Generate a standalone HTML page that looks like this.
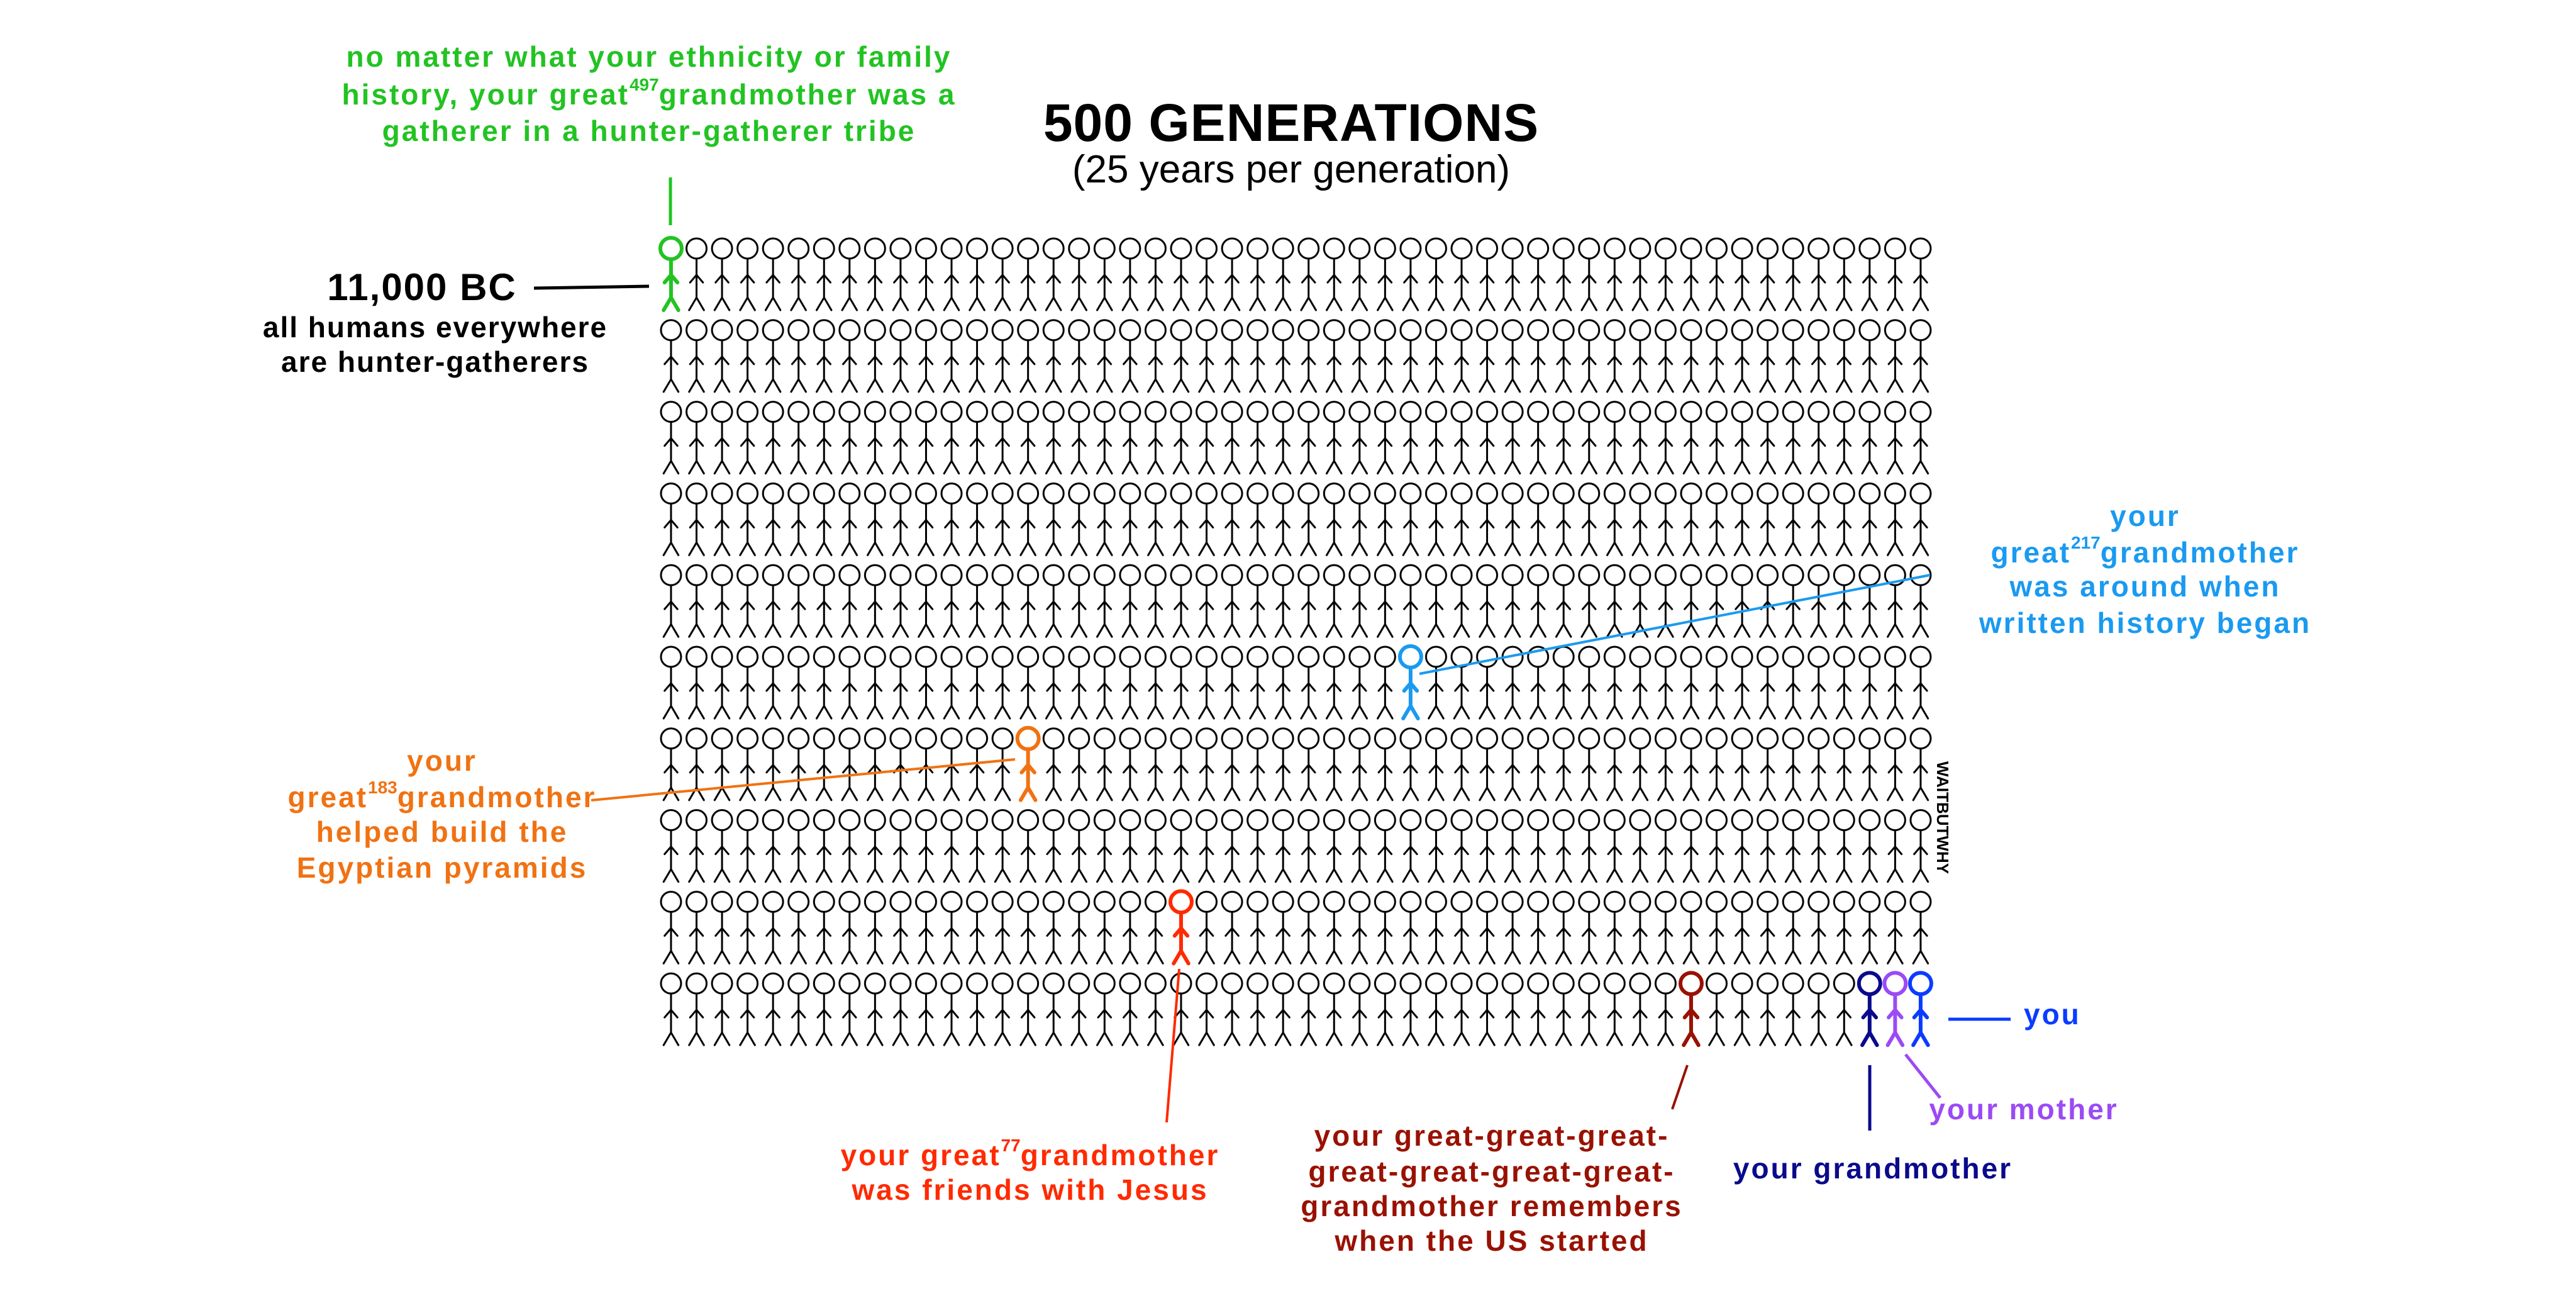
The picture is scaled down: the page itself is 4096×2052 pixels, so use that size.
<!DOCTYPE html>
<html><head><meta charset="utf-8"><style>
html,body{margin:0;padding:0;background:#fff;}
svg{display:block;}
text{font-family:"Liberation Sans",sans-serif;font-weight:bold;}
</style></head><body>
<svg width="4096" height="2052" viewBox="0 0 4096 2052" xmlns="http://www.w3.org/2000/svg">
<defs>
<pattern id="p" x="1046.7" y="373" width="40.55" height="129.8" patternUnits="userSpaceOnUse">
<g fill="none" stroke="#000" stroke-width="3" stroke-linecap="round" stroke-linejoin="round">
<circle cx="20.27" cy="22" r="16"/>
<path d="M20.27 38 L20.27 100 M10 76 L20.27 64 L30.5 76 M8.5 120 L20.27 100 L32 120"/>
</g>
</pattern>
<g id="f" fill="none" stroke-width="6" stroke-linecap="round" stroke-linejoin="round">
<rect x="0" y="0" width="40.55" height="125" fill="#fff" stroke="none"/>
<circle cx="20.27" cy="22" r="17"/>
<path d="M20.27 39 L20.27 100 M10 76 L20.27 64 L30.5 76 M8.5 120 L20.27 100 L32 120"/>
</g>
</defs>
<rect x="1046.7" y="373" width="2027.5" height="1298" fill="url(#p)"/>

<use href="#f" x="1046.7" y="373" stroke="#22c322"/>
<use href="#f" x="2222.65" y="1022" stroke="#1a9af0"/>
<use href="#f" x="1614.4" y="1151.8" stroke="#f07212"/>
<use href="#f" x="1857.7" y="1411.4" stroke="#ff2a00"/>
<use href="#f" x="2668.7" y="1541.2" stroke="#991100"/>
<use href="#f" x="2952.55" y="1541.2" stroke="#0a0a8c"/>
<use href="#f" x="2993.1" y="1541.2" stroke="#9b4af5"/>
<use href="#f" x="3033.65" y="1541.2" stroke="#0a3cff"/>

<text x="2053" y="224" font-size="84" text-anchor="middle" fill="#000" letter-spacing="1">500 GENERATIONS</text>
<text x="2053" y="290" font-size="62" text-anchor="middle" fill="#000" style="font-weight:normal">(25 years per generation)</text>

<g fill="#22c322" font-size="46" text-anchor="middle" letter-spacing="3">
<text x="1032" y="106">no matter what your ethnicity or family</text>
<text x="1032" y="166">history, your great<tspan font-size="28" dy="-22" letter-spacing="0">497</tspan><tspan dy="22">grandmother was a</tspan></text>
<text x="1032" y="224">gatherer in a hunter-gatherer tribe</text>
</g>
<line x1="1066" y1="282" x2="1066" y2="358" stroke="#22c322" stroke-width="5"/>

<text x="671" y="477" font-size="60" text-anchor="middle" fill="#000" letter-spacing="2">11,000 BC</text>
<line x1="849" y1="458" x2="1032" y2="455" stroke="#000" stroke-width="5"/>
<g fill="#000" font-size="46" text-anchor="middle" letter-spacing="2">
<text x="692" y="536">all humans everywhere</text>
<text x="692" y="591">are hunter-gatherers</text>
</g>

<g fill="#1a9af0" font-size="46" text-anchor="middle" letter-spacing="3">
<text x="3411" y="836">your</text>
<text x="3411" y="894">great<tspan font-size="28" dy="-22" letter-spacing="0">217</tspan><tspan dy="22">grandmother</tspan></text>
<text x="3411" y="948">was around when</text>
<text x="3411" y="1006">written history began</text>
</g>
<line x1="3069" y1="914" x2="2257" y2="1071" stroke="#1a9af0" stroke-width="4"/>

<g fill="#f07212" font-size="46" text-anchor="middle" letter-spacing="3">
<text x="703" y="1225">your</text>
<text x="703" y="1283">great<tspan font-size="28" dy="-22" letter-spacing="0">183</tspan><tspan dy="22">grandmother</tspan></text>
<text x="703" y="1338">helped build the</text>
<text x="703" y="1395">Egyptian pyramids</text>
</g>
<line x1="940" y1="1272" x2="1614" y2="1207" stroke="#f07212" stroke-width="4"/>

<g fill="#ff2a00" font-size="46" text-anchor="middle" letter-spacing="3">
<text x="1638" y="1852">your great<tspan font-size="28" dy="-22" letter-spacing="0">77</tspan><tspan dy="22">grandmother</tspan></text>
<text x="1638" y="1907">was friends with Jesus</text>
</g>
<line x1="1855" y1="1784" x2="1875" y2="1540" stroke="#ff2a00" stroke-width="4"/>

<g fill="#991100" font-size="46" text-anchor="middle" letter-spacing="3">
<text x="2372" y="1821">your great-great-great-</text>
<text x="2372" y="1878">great-great-great-great-</text>
<text x="2372" y="1933">grandmother remembers</text>
<text x="2372" y="1988">when the US started</text>
</g>
<line x1="2659" y1="1763" x2="2683" y2="1693" stroke="#991100" stroke-width="4"/>

<text x="2978" y="1873" font-size="46" text-anchor="middle" fill="#0a0a8c" letter-spacing="3">your grandmother</text>
<line x1="2973" y1="1693" x2="2973" y2="1797" stroke="#0a0a8c" stroke-width="5"/>

<text x="3218" y="1779" font-size="46" text-anchor="middle" fill="#9b4af5" letter-spacing="3">your mother</text>
<line x1="3030" y1="1676" x2="3085" y2="1745" stroke="#9b4af5" stroke-width="5"/>

<text x="3218" y="1628" font-size="46" fill="#0a3cff" letter-spacing="3">you</text>
<line x1="3098" y1="1620" x2="3197" y2="1620" stroke="#0a3cff" stroke-width="5"/>

<text x="0" y="0" font-size="26" fill="#000" transform="translate(3080,1210) rotate(90)">WAITBUTWHY</text>
</svg>
</body></html>
